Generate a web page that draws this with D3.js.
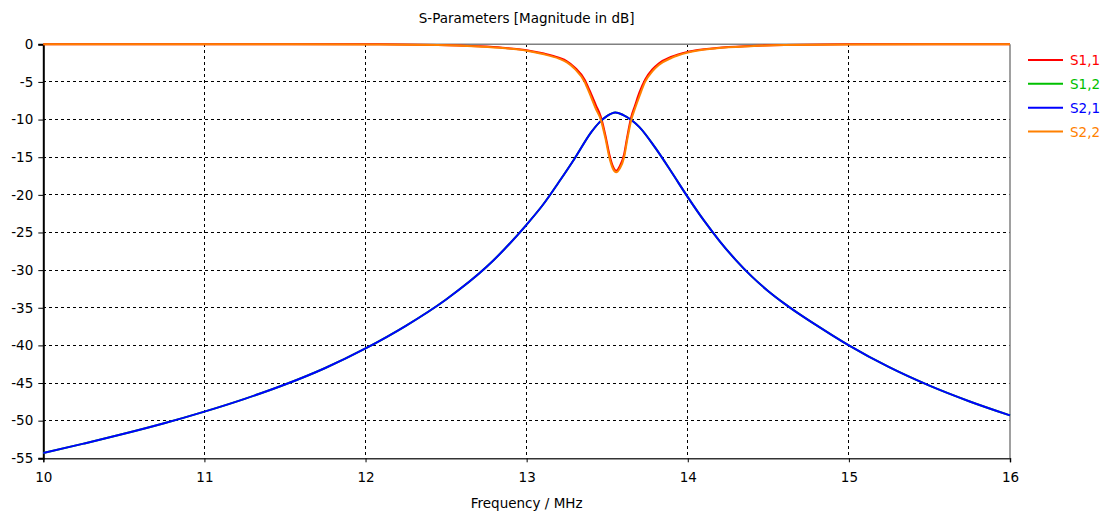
<!DOCTYPE html>
<html>
<head>
<meta charset="utf-8">
<script src="https://cdn.jsdelivr.net/npm/d3@7"></script>
<style>
  html, body { margin: 0; padding: 0; background: #fff; }
  svg { display: block; font-family: "DejaVu Sans", Verdana, sans-serif; }
</style>
</head>
<body>
<svg id="chart" width="1103" height="512"></svg>
<script>
// S-parameter magnitudes (dB) of a two-port resonator filter, 10 to 16 MHz
const titleText = "S-Parameters [Magnitude in dB]";
const xLabel = "Frequency / MHz";
const xTicks = [10, 11, 12, 13, 14, 15, 16];
const yTicks = [0, -5, -10, -15, -20, -25, -30, -35, -40, -45, -50, -55];
const seriesNames = ["S1,1", "S1,2", "S2,1", "S2,2"];
const seriesColors = ["#ff0000", "#00c000", "#0000ff", "#ff8000"];

// transmission (S2,1), sampled in MHz / dB
const s21Freq = [10, 10.25, 10.5, 10.75, 11, 11.25, 11.5, 11.75, 12, 12.25, 12.5, 12.75,
                 13, 13.1, 13.2, 13.3, 13.4, 13.45, 13.5, 13.55, 13.6, 13.65, 13.7,
                 13.8, 13.9, 14, 14.1, 14.2, 14.3, 14.4, 14.5, 14.6, 14.7, 14.8, 14.9,
                 15, 15.25, 15.5, 15.75, 16];
const s21Db = [-54.3, -53.05, -51.75, -50.35, -48.8, -47.1, -45.2, -43.0, -40.4, -37.4, -33.9, -29.6,
               -23.95, -21.35, -18.3, -15.1, -11.7, -10.4, -9.5, -9.05, -9.4, -10.05, -11.0,
               -13.8, -17.0, -20.3, -23.4, -26.2, -28.7, -30.9, -32.8, -34.45, -35.95, -37.35, -38.7,
               -40.0, -42.9, -45.35, -47.45, -49.3];
// reverse transmission (S1,2) is identical for this reciprocal network
const s12Db = s21Db.slice();

// reflections (S1,1 and S2,2)
const reflFreq = [10, 11, 12, 12.45, 12.7, 12.85, 13, 13.1, 13.2, 13.25, 13.3, 13.36, 13.39,
                  13.43, 13.46, 13.49, 13.513, 13.535, 13.556, 13.578, 13.605, 13.625, 13.65,
                  13.673, 13.7, 13.735, 13.78, 13.82, 13.9, 14, 14.18, 14.39, 14.6, 15, 16];
const s11Db = [0, 0, 0, -0.08, -0.26, -0.45, -0.78, -1.2, -1.78, -2.25, -3.1, -4.7, -6.1,
               -8.1, -9.6, -12.2, -14.6, -16.2, -16.8, -16.2, -14.6, -12.2, -9.6,
               -8.1, -6.4, -4.7, -3.35, -2.55, -1.65, -1.0, -0.48, -0.22, -0.08, 0, 0];
const s22Db = [0, 0, -0.02, -0.1, -0.3, -0.5, -0.85, -1.3, -1.9, -2.4, -3.3, -5.0, -6.5,
               -8.6, -10.0, -12.6, -15.0, -16.5, -17.0, -16.5, -15.0, -12.6, -10.0,
               -8.5, -6.9, -5.0, -3.6, -2.75, -1.8, -1.1, -0.53, -0.25, -0.1, -0.03, 0];

const series = [
  { name: seriesNames[0], color: seriesColors[0], f: reflFreq, v: s11Db },
  { name: seriesNames[1], color: seriesColors[1], f: s21Freq, v: s12Db },
  { name: seriesNames[2], color: seriesColors[2], f: s21Freq, v: s21Db },
  { name: seriesNames[3], color: seriesColors[3], f: reflFreq, v: s22Db }
];

const svg = d3.select("#chart");
const plotLeft = 43.3, plotRight = 1010, plotTop = 44.3, plotBottom = 458.3;
const fontSize = "13.5px";

const x = d3.scaleLinear().domain([10, 16]).range([plotLeft, plotRight]);
const y = d3.scaleLinear().domain([0, -55]).range([plotTop, plotBottom]);

// dashed grid
const grid = svg.append("g").attr("stroke", "#000").attr("stroke-width", 1)
  .attr("stroke-dasharray", "3,3").attr("shape-rendering", "crispEdges");
xTicks.slice(1, -1).forEach(t => {
  grid.append("line").attr("x1", x(t)).attr("x2", x(t)).attr("y1", plotTop).attr("y2", plotBottom);
});
yTicks.slice(1, -1).forEach(t => {
  grid.append("line").attr("x1", plotLeft).attr("x2", plotRight).attr("y1", y(t)).attr("y2", y(t));
});

// frame: light on top/right, dark axes on left/bottom
svg.append("line").attr("x1", plotLeft).attr("x2", plotRight).attr("y1", plotTop).attr("y2", plotTop)
  .attr("stroke", "#808080").attr("stroke-width", 1.5);
svg.append("line").attr("x1", plotRight).attr("x2", plotRight).attr("y1", plotTop).attr("y2", plotBottom)
  .attr("stroke", "#808080").attr("stroke-width", 1.5);

const xAxis = d3.axisBottom(x).tickValues(xTicks).tickSize(4).tickPadding(10)
  .tickFormat(d3.format("d"));
const gx = svg.append("g").attr("transform", `translate(0,${plotBottom})`).call(xAxis);
gx.select(".domain").attr("stroke", "#333").attr("stroke-width", 1.5);
gx.selectAll(".tick line").attr("stroke", "#000");
gx.selectAll(".tick text").attr("font-size", fontSize).attr("fill", "#000")
  .attr("font-family", "DejaVu Sans, Verdana, sans-serif");

const yAxis = d3.axisLeft(y).tickValues(yTicks).tickSize(5).tickPadding(5)
  .tickFormat(d => d3.format("d")(d).replace("−", "-"));
const gy = svg.append("g").attr("transform", `translate(${plotLeft},0)`).call(yAxis);
gy.select(".domain").attr("stroke", "#000").attr("stroke-width", 2);
gy.selectAll(".tick line").attr("stroke", "#000");
gy.selectAll(".tick text").attr("font-size", fontSize).attr("fill", "#000")
  .attr("font-family", "DejaVu Sans, Verdana, sans-serif");

// curves
const line = d3.line().x(d => x(d[0])).y(d => y(d[1])).curve(d3.curveMonotoneX);
series.forEach(s => {
  svg.append("path")
    .datum(s.f.map((f, i) => [f, s.v[i]]))
    .attr("fill", "none")
    .attr("stroke", s.color)
    .attr("stroke-width", 2)
    .attr("stroke-linejoin", "round")
    .attr("d", line);
});

// title and axis label
svg.append("text").attr("x", (plotLeft + plotRight) / 2).attr("y", 23).attr("text-anchor", "middle")
  .attr("font-size", fontSize).attr("fill", "#000").text(titleText);
svg.append("text").attr("x", (plotLeft + plotRight) / 2).attr("y", 508).attr("text-anchor", "middle")
  .attr("font-size", fontSize).attr("fill", "#000").text(xLabel);

// legend
const legendY = d3.scalePoint().domain(seriesNames).range([60, 131.5]);
const legend = svg.append("g");
series.forEach(s => {
  const yy = legendY(s.name);
  legend.append("line").attr("x1", 1028).attr("x2", 1063).attr("y1", yy).attr("y2", yy)
    .attr("stroke", s.color).attr("stroke-width", 2);
  legend.append("text").attr("x", 1070).attr("y", yy + 5).attr("font-size", fontSize)
    .attr("fill", s.color).text(s.name);
});
</script>
</body>
</html>
